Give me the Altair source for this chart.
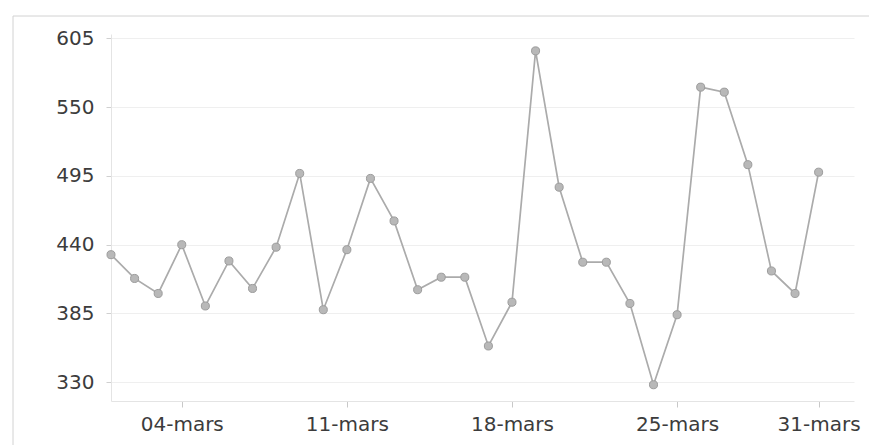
import altair as alt
import pandas as pd

# Days of March (x) and the values (y)
days = [1, 2, 3, 4, 5, 6, 7, 8, 9, 10, 11, 12, 13, 14, 15, 16,
        17, 18, 19, 20, 21, 22, 23, 24, 25, 26, 27, 28, 29, 30, 31]
values = [432, 413, 401, 440, 391, 427, 405, 438, 497, 388, 436, 493, 459,
          404, 414, 414, 359, 394, 595, 486, 426, 426, 393, 328, 384, 566,
          562, 504, 419, 401, 498]

x_ticks = [4, 11, 18, 25, 31]
x_tick_labels = ["04-mars", "11-mars", "18-mars", "25-mars", "31-mars"]
y_ticks = [330, 385, 440, 495, 550, 605]

df = pd.DataFrame({"day": days, "value": values})

label_expr = "".join(
    f"datum.value == {d} ? '{lab}' : " for d, lab in zip(x_ticks, x_tick_labels)
) + "''"

W, H = 743, 367

x_enc = alt.X(
    "day:Q",
    scale=alt.Scale(domain=[1, 32.5], nice=False, zero=False),
    axis=alt.Axis(
        values=x_ticks, labelExpr=label_expr, title=None, grid=False,
        tickSize=6, tickColor="#c8c8c8", domainColor="#e4e4e4",
        labelPadding=7, labelFontSize=20, labelColor="#3c3c3c",
        labelFont="DejaVu Sans", labelFlush=False,
    ),
)
y_enc = alt.Y(
    "value:Q",
    scale=alt.Scale(domain=[315, 608.5], nice=False, zero=False),
    axis=alt.Axis(
        values=y_ticks, title=None, grid=True, gridColor="#efefef",
        tickSize=5, tickColor="#d0d0d0", domainColor="#e4e4e4",
        labelPadding=12, labelFontSize=20, labelColor="#3c3c3c",
        labelFont="DejaVu Sans",
    ),
)

base = alt.Chart(df)
line = base.mark_line(color="#ababab", strokeWidth=1.7).encode(x=x_enc, y=y_enc)
points = base.mark_point(
    filled=True, size=65, fill="#b8b8b8", stroke="#9c9c9c", strokeWidth=1, opacity=1
).encode(x="day:Q", y="value:Q")

# faint outer frame (top and left edges visible in the reference)
frame_left = alt.Chart(pd.DataFrame({"k": [0]})).mark_rule(
    color="#d2d2d2", strokeWidth=1
).encode(x=alt.value(-98), y=alt.value(-18), y2=alt.value(H + 44))
frame_top = alt.Chart(pd.DataFrame({"k": [0]})).mark_rule(
    color="#d2d2d2", strokeWidth=1
).encode(x=alt.value(-98), x2=alt.value(W + 15), y=alt.value(-18))

chart = alt.layer(frame_left, frame_top, line, points).properties(
    width=W, height=H,
    padding={"left": 4, "top": 7, "right": 0, "bottom": 0},
).configure(background="white").configure_view(stroke=None)

chart.save("out.html", embed_options={"renderer": "svg", "actions": False})
